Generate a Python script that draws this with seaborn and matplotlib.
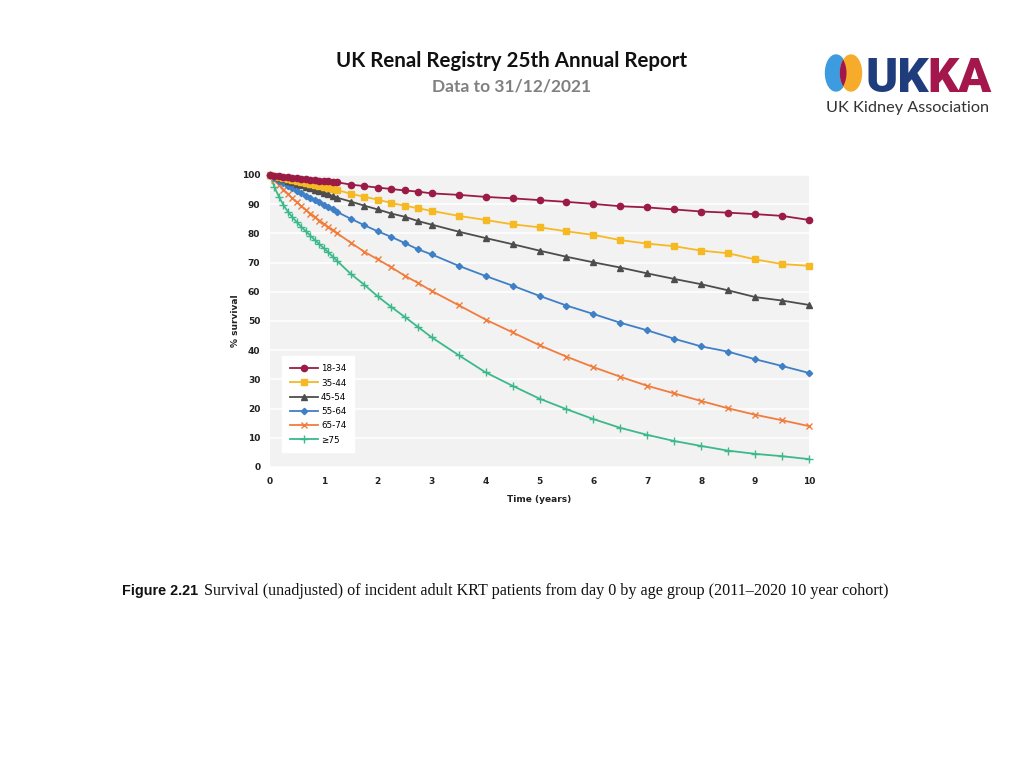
import numpy as np
import pandas as pd
import matplotlib
matplotlib.use("Agg")
import matplotlib.pyplot as plt
from matplotlib.patches import Ellipse
import seaborn as sns

# follow-up times (months) and survival (%) per age group
months = [0, 1, 2, 3, 4, 5, 6, 7, 8, 9, 10, 11, 12, 13, 14, 15,
          18, 21, 24, 27, 30, 33, 36,
          42, 48, 54, 60, 66, 72, 78, 84, 90, 96, 102, 108, 114, 120]

age_groups = ["18-34", "35-44", "45-54", "55-64", "65-74", "\u226575"]

surv_18_34 = [100, 99.8, 99.6, 99.4, 99.3, 99.1, 98.9, 98.8, 98.6, 98.4, 98.3, 98.1, 97.9, 97.8, 97.6, 97.5,
              96.7, 96.2, 95.7, 95.2, 94.7, 94.3, 93.7,
              93.2, 92.5, 92.0, 91.4, 90.8, 90.1, 89.3, 88.9, 88.2, 87.5, 87.1, 86.6, 86.0, 84.6]
surv_35_44 = [100, 99.6, 99.2, 98.9, 98.5, 98.2, 97.9, 97.5, 97.2, 96.9, 96.5, 96.2, 95.8, 95.5, 95.2, 94.8,
              93.6, 92.5, 91.6, 90.4, 89.5, 88.6, 87.7,
              86.0, 84.6, 83.1, 82.1, 80.7, 79.5, 77.7, 76.5, 75.6, 74.1, 73.2, 71.1, 69.5, 68.9]
surv_45_54 = [100, 99.5, 99.0, 98.5, 98.0, 97.5, 97.0, 96.5, 96.0, 95.5, 95.0, 94.5, 94.0, 93.4, 92.8, 92.2,
              90.9, 89.5, 88.2, 86.8, 85.7, 84.2, 83.0,
              80.6, 78.4, 76.3, 74.1, 72.0, 70.1, 68.3, 66.3, 64.4, 62.6, 60.5, 58.2, 57.0, 55.5]
surv_55_64 = [100, 98.9, 98.0, 97.1, 96.2, 95.4, 94.5, 93.7, 92.9, 92.1, 91.3, 90.6, 89.8, 89.0, 88.2, 87.3,
              85.0, 82.8, 80.7, 78.8, 76.7, 74.5, 72.8,
              68.9, 65.4, 62.1, 58.6, 55.3, 52.4, 49.4, 46.8, 43.9, 41.3, 39.5, 36.9, 34.6, 32.2]
surv_65_74 = [100, 98.2, 96.6, 95.0, 93.5, 92.0, 90.6, 89.3, 88.0, 86.8, 85.6, 84.4, 83.2, 82.1, 81.0, 80.0,
              76.8, 73.7, 71.1, 68.4, 65.5, 63.0, 60.3,
              55.4, 50.5, 46.1, 41.7, 37.8, 34.2, 30.9, 27.8, 25.2, 22.6, 20.1, 17.9, 16.0, 14.0]
surv_75_plus = [100, 95.8, 92.5, 89.7, 87.4, 85.5, 83.8, 82.2, 80.7, 79.2, 77.7, 76.3, 74.9, 73.5, 72.0, 70.5,
                66.1, 62.4, 58.4, 54.8, 51.4, 47.9, 44.4,
                38.3, 32.4, 27.8, 23.4, 19.8, 16.4, 13.4, 11.0, 8.9, 7.2, 5.6, 4.5, 3.7, 2.7]

colors = ["#9b1b46", "#f6b924", "#4d4d4d", "#3f7fc6", "#f07d3c", "#3cb98a"]
markers = ["o", "s", "^", "D", "x", "+"]
msizes = [4.5, 3.8, 4.5, 3.2, 4.5, 5.5]

series = [surv_18_34, surv_35_44, surv_45_54, surv_55_64, surv_65_74, surv_75_plus]
df = pd.concat([pd.DataFrame({"Time": np.array(months) / 12, "Survival": s, "Age": g})
                for g, s in zip(age_groups, series)], ignore_index=True)

fig = plt.figure(figsize=(10.24, 7.68), dpi=100)
ax = fig.add_axes([270 / 1024, 1 - 467 / 768, 539 / 1024, 292 / 768])
ax.set_facecolor("#f2f2f2")

for i, g in enumerate(age_groups):
    sub = df[df["Age"] == g]
    sns.lineplot(data=sub, x="Time", y="Survival", ax=ax, color=colors[i], marker=markers[i],
                 markersize=msizes[i], markeredgecolor=colors[i], markeredgewidth=1.0,
                 linewidth=1.3, label=g, zorder=10 - i, clip_on=False)

ax.set_xlim(0, 10)
ax.set_ylim(0, 100)
ax.set_xticks(range(0, 11))
ax.set_yticks(range(0, 101, 10))
ax.grid(axis="y", color="white", linewidth=1.2)
ax.grid(axis="x", visible=False)
ax.set_axisbelow(True)
for sp in ax.spines.values():
    sp.set_visible(False)
ax.tick_params(length=0, labelsize=6.5, colors="#222222", pad=7)
for lab in ax.get_xticklabels() + ax.get_yticklabels():
    lab.set_fontweight("bold")
ax.set_xlabel("Time (years)", fontsize=6.5, fontweight="bold", color="#222222", labelpad=7)
ax.set_ylabel("% survival", fontsize=6.5, fontweight="bold", color="#222222", labelpad=1)

leg = ax.legend(loc="lower left", bbox_to_anchor=(0.015, 0.035), fontsize=6.3, frameon=True,
                facecolor="white", edgecolor="white", framealpha=1, fancybox=False,
                handlelength=3.2, handletextpad=0.3, labelspacing=0.6, borderpad=0.9)

# header
fig.text(0.5, 1 - 67 / 768, "UK Renal Registry 25th Annual Report", ha="center", va="baseline",
         fontsize=14.8, fontweight="bold", family="Lato", color="#111111")
fig.text(0.5, 1 - 91 / 768, "Data to 31/12/2021", ha="center", va="baseline",
         fontsize=12.5, fontweight="bold", family="Lato", color="#808080")

# logo
lax = fig.add_axes([824 / 1024, 1 - 94 / 768, 40 / 1024, 42 / 768])
lax.set_xlim(0, 40)
lax.set_ylim(0, 42)
lax.axis("off")
blue = Ellipse((12, 21), 21, 36, color="#3d9be0")
orange = Ellipse((27, 21), 21, 36, color="#f6ac2a")
lax.add_patch(blue)
lax.add_patch(orange)
overlap = Ellipse((27, 21), 21, 36, color="#a0174e")
lax.add_patch(overlap)
overlap.set_clip_path(blue)
t1 = fig.text(866 / 1024, 1 - 92 / 768, "UK", fontsize=35, fontweight="black", family="Roboto",
              color="#1f3c7d", va="baseline")
fig.canvas.draw()
bb = t1.get_window_extent()
fig.text(bb.x1 / 1024 - 2 / 1024, 1 - 92 / 768, "KA", fontsize=35, fontweight="black", family="Roboto",
         color="#a3174c", va="baseline")
fig.text(826 / 1024, 1 - 112 / 768, "UK Kidney Association", fontsize=11.7, family="Lato",
         color="#333333", va="baseline")

# caption
c1 = fig.text(122 / 1024, 1 - 595 / 768, "Figure 2.21", fontsize=10.4, fontweight="bold",
              family="Liberation Sans", color="#111111", va="baseline")
fig.canvas.draw()
bb = c1.get_window_extent()
fig.text((bb.x1 + 6) / 1024, 1 - 595 / 768,
         "Survival (unadjusted) of incident adult KRT patients from day 0 by age group (2011\u20132020 10 year cohort)",
         fontsize=11.65, family="Liberation Serif", color="#111111", va="baseline")

fig.savefig("out.png", dpi=100)
